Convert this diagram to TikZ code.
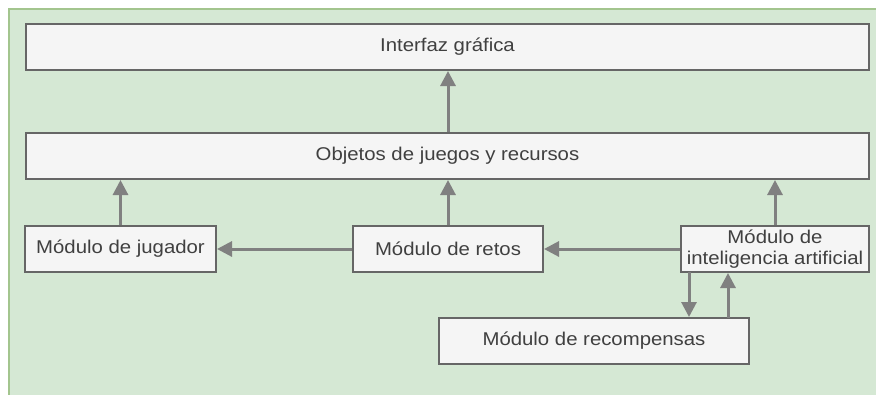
\documentclass[tikz,border=0pt]{standalone}
\usepackage{fontspec}
\setmainfont[FakeStretch=1.1]{Liberation Sans}
\usetikzlibrary{arrows.meta}
\definecolor{bgfill}{HTML}{D5E8D4}
\definecolor{bgline}{HTML}{A3C58E}
\definecolor{boxfill}{HTML}{F5F5F5}
\definecolor{boxline}{HTML}{666666}
\definecolor{arrline}{HTML}{808080}
\definecolor{txt}{HTML}{404040}
\begin{document}
\begin{tikzpicture}[x=1pt,y=-1pt,
  box/.style={draw=boxline,fill=boxfill,line width=2pt,rectangle,inner sep=0pt,
    minimum height=46pt,text=txt,font=\fontsize{18.5}{20}\selectfont,align=center},
  arr/.style={draw=arrline,line width=3pt,-{Triangle[length=15pt,width=15pt]}}]
\useasboundingbox (0,0) rectangle (876,394);
\fill[bgfill] (9,9) rectangle (880,398);
\draw[bgline,line width=1.5pt] (9,398) -- (9,9) -- (880,9);
\node[box,minimum width=843pt] (interfaz) at (447.5,47) {Interfaz gráfica};
\node[box,minimum width=843pt] (objetos) at (447.5,156) {Objetos de juegos y recursos};
\node[box,minimum width=191pt] (jugador) at (120.5,249) {Módulo de jugador};
\node[box,minimum width=190pt] (retos) at (448,249) {Módulo de retos};
\node[box,minimum width=188pt,font=\fontsize{18.5}{21}\selectfont] (ia) at (775,249) {Módulo de\\inteligencia artificial};
\node[box,minimum width=310pt] (recomp) at (594,341) {Módulo de recompensas};
\coordinate (iadown) at (689,272);
\coordinate (iaup) at (728,318);
\draw[arr] (jugador.north) -- (jugador.north |- objetos.south);
\draw[arr] (retos.north) -- (retos.north |- objetos.south);
\draw[arr] (objetos.north -| retos.north) -- (retos.north |- interfaz.south);
\draw[arr] (ia.north) -- (ia.north |- objetos.south);
\draw[arr] (retos.west) -- (jugador.east);
\draw[arr] (ia.west) -- (retos.east);
\draw[arr] (iadown) -- (iadown |- recomp.north);
\draw[arr] (iaup) -- (iaup |- ia.south);
\end{tikzpicture}
\end{document}
